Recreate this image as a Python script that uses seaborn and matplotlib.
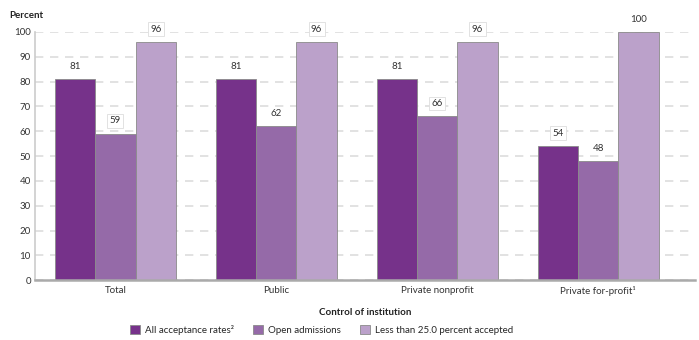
import matplotlib
matplotlib.use("Agg")
import matplotlib.pyplot as plt
import seaborn as sns
import pandas as pd

categories = ["Total", "Public", "Private nonprofit", "Private for-profit\u00b9"]
series_names = ["All acceptance rates\u00b2", "Open admissions", "Less than 25.0 percent accepted"]
all_rates = [81, 81, 81, 54]
open_adm = [59, 62, 66, 48]
less_25 = [96, 96, 96, 100]
colors = ["#76328a", "#956aa8", "#bba1ca"]

rows = []
for name, vals in zip(series_names, [all_rates, open_adm, less_25]):
    for cat, v in zip(categories, vals):
        rows.append({"control": cat, "series": name, "value": v})
df = pd.DataFrame(rows)

sns.set_theme(style="white")
plt.rcParams["font.family"] = ["Lato", "DejaVu Sans"]

fig = plt.figure(figsize=(6.99, 3.40), dpi=100)
ax = fig.add_axes([0.050, 0.176, 0.944, 0.730])

sns.barplot(data=df, x="control", y="value", hue="series", palette=colors,
            order=categories, hue_order=series_names, width=0.75,
            edgecolor="#8a8a8a", linewidth=0.6, ax=ax, saturation=1)

ax.set_xlim(-0.5, 3.6)
ax.set_ylim(0, 100)
ax.set_yticks(range(0, 101, 10))
ax.tick_params(axis="y", labelsize=7, colors="#333333", length=0, pad=3)
ax.tick_params(axis="x", labelsize=7, colors="#333333", length=0, pad=4)
ax.yaxis.grid(True, linestyle=(0, (5, 4)), color="#dddddd", linewidth=1.2)
ax.set_axisbelow(True)
for s in ["top", "right"]:
    ax.spines[s].set_visible(False)
ax.spines["left"].set_color("#cccccc")
ax.spines["left"].set_linewidth(1.2)
ax.spines["bottom"].set_color("#aaaaaa")
ax.spines["bottom"].set_linewidth(1.8)

ax.set_ylabel("")
ax.set_xlabel("Control of institution", fontsize=7, fontweight="bold",
              color="#222222", labelpad=9)
fig.text(0.013, 0.948, "Percent", fontsize=7, fontweight="bold", color="#222222")

boxed = {(2, 0), (2, 1), (2, 2), (1, 0), (1, 2), (0, 3)}
for si, cont in enumerate(ax.containers):
    for ci, bar in enumerate(cont):
        v = bar.get_height()
        x = bar.get_x() + bar.get_width() / 2
        kw = {}
        if (si, ci) in boxed:
            kw["bbox"] = dict(boxstyle="square,pad=0.25", fc="white", ec="#dddddd", lw=0.6)
        ax.annotate(f"{int(v)}", (x, v), xytext=(0, 6), textcoords="offset points",
                    ha="center", va="bottom", fontsize=7, color="#333333",
                    annotation_clip=False, **kw)

handles, labels = ax.get_legend_handles_labels()
ax.legend_.remove()
fig.legend(handles, labels, loc="center", bbox_to_anchor=(0.46, 0.03), ncol=3,
           frameon=False, fontsize=7, handlelength=1.0, handleheight=1.0,
           columnspacing=2.0, handletextpad=0.5)

fig.savefig("out.png", dpi=100)
